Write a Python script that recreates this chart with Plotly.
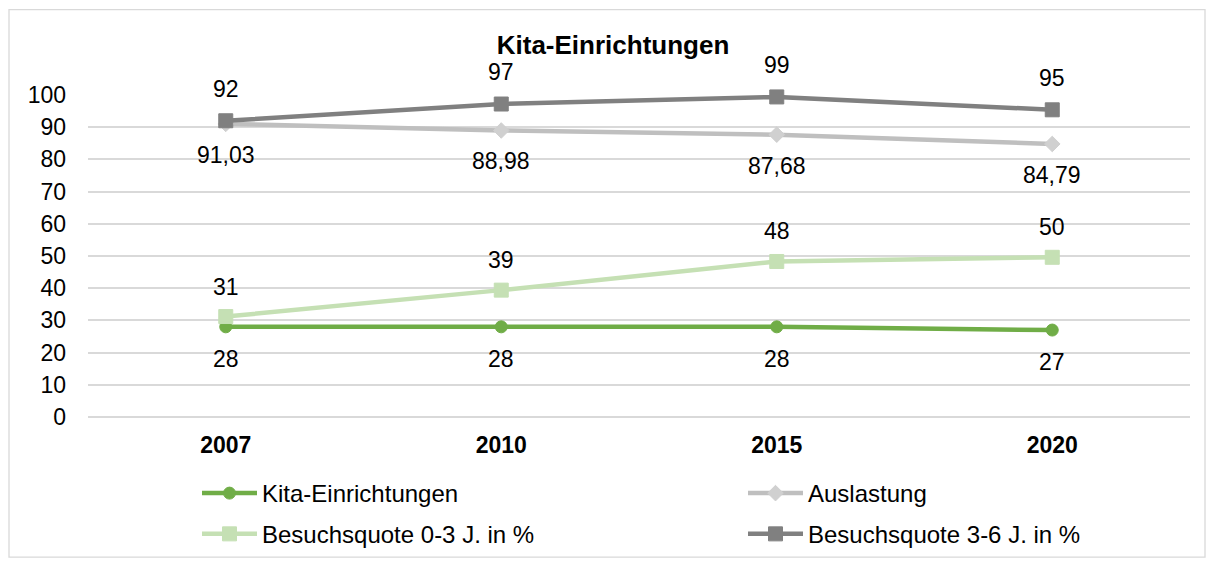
import plotly.graph_objects as go

years = ["2007", "2010", "2015", "2020"]
kita = [28, 28, 28, 27]
auslastung = [91.03, 88.98, 87.68, 84.79]
quote_0_3 = [31.2, 39.4, 48.3, 49.6]
quote_3_6 = [92.0, 97.2, 99.4, 95.4]

kita_lbl = ["28", "28", "28", "27"]
ausl_lbl = ["91,03", "88,98", "87,68", "84,79"]
q03_lbl = ["31", "39", "48", "50"]
q36_lbl = ["92", "97", "99", "95"]

FONT = "Liberation Sans, Arial, sans-serif"
xpos = list(range(len(years)))

# plot-area geometry (pixels)
L, R, T, B = 88, 1190, 95, 419
PW, PH = R - L, B - T

def px_x(p):
    return (p - L) / PW

def px_y(p):
    return (B - p) / PH

fig = go.Figure()
series = [
    ("Kita-Einrichtungen", kita, "#70AD47", "#70AD47", "circle", 12, "legend", 203, 496),
    ("Auslastung", auslastung, "#BFBFBF", "#D0D0D0", "diamond", 12, "legend2", 749, 496),
    ("Besuchsquote 0-3 J. in %", quote_0_3, "#C5E0B4", "#C5E0B4", "square", 14, "legend3", 203, 537),
    ("Besuchsquote 3-6 J. in %", quote_3_6, "#808080", "#808080", "square", 14, "legend4", 749, 537),
]
legends = {}
for name, vals, lc, mc, sym, ms, lg, lx, ly in series:
    fig.add_trace(go.Scatter(
        x=xpos, y=vals, name=name, mode="lines+markers",
        line=dict(color=lc, width=4.5),
        marker=dict(symbol=sym, size=ms, color=mc, line=dict(width=1, color=mc)),
        legend=lg, cliponaxis=False,
    ))
    legends[lg] = dict(x=px_x(lx - 6), xanchor="left", y=px_y(ly), yanchor="middle",
                       itemwidth=55, bgcolor="rgba(0,0,0,0)",
                       font=dict(family=FONT, size=24, color="#000000"))

ann = []
for vals, labels, shift in [(kita, kita_lbl, -32), (auslastung, ausl_lbl, -31),
                            (quote_0_3, q03_lbl, 30), (quote_3_6, q36_lbl, 32)]:
    for x, y, t in zip(xpos, vals, labels):
        ann.append(dict(x=x, y=y, xref="x", yref="y", text=t, showarrow=False, yshift=shift,
                        font=dict(family=FONT, size=23, color="#000000")))

fig.update_layout(
    width=1214, height=569,
    margin=dict(l=L, r=1214 - R, t=T, b=569 - B),
    paper_bgcolor="white", plot_bgcolor="white",
    title=dict(text="<b>Kita-Einrichtungen</b>", x=613 / 1214, xanchor="center",
               xref="container", y=1 - 45 / 569, yanchor="middle",
               font=dict(family=FONT, size=26, color="#000000")),
    font=dict(family=FONT, size=23, color="#000000"),
    annotations=ann,
    showlegend=True,
    shapes=[dict(type="rect", xref="paper", yref="paper",
                 x0=px_x(9), x1=px_x(1205), y0=px_y(560), y1=px_y(9),
                 line=dict(color="#D9D9D9", width=1.3), fillcolor="rgba(0,0,0,0)", layer="below")],
    **legends,
)
fig.update_xaxes(range=[-0.5, 3.5], tickvals=xpos, ticktext=years,
                 showgrid=False, showline=False, zeroline=False,
                 ticks="", ticklabelstandoff=12,
                 tickfont=dict(family=FONT, size=23, color="#000000", weight="bold"))
fig.update_yaxes(range=[0, 100], dtick=10, showgrid=True, gridcolor="#D9D9D9", gridwidth=1.5,
                 zeroline=True, zerolinecolor="#D9D9D9", zerolinewidth=1.5,
                 showline=False, ticks="", ticklabelstandoff=21,
                 tickfont=dict(family=FONT, size=23, color="#000000"))

fig.write_html("out.html", config={"displayModeBar": False},
               post_script="document.body.style.margin='0';")
